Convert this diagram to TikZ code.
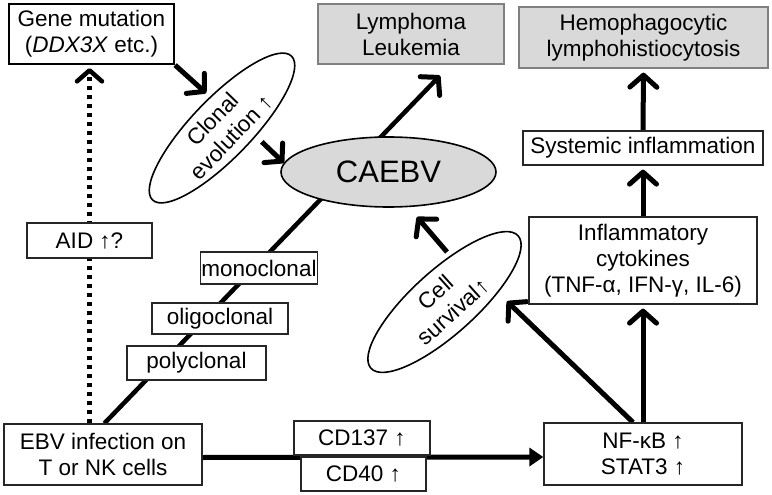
\documentclass[tikz,border=0pt]{standalone}
\usepackage{fontspec}
\setmainfont{Liberation Sans}
\usetikzlibrary{arrows.meta,calc,backgrounds,shapes.geometric}
\begin{document}
\begin{tikzpicture}[x=1pt,y=-1pt,
  font=\fontsize{22.5}{26}\selectfont,
  box/.style={draw=black!85,line width=1.3pt,fill=white,inner sep=0pt,align=center},
  gbox/.style={draw=black!50,line width=1.3pt,fill=black!15,inner sep=0pt,align=center},
  oval/.style={ellipse,draw=black,line width=1.6pt,fill=white,inner sep=-12pt,align=center},
  arr/.style={line width=5pt,-{Straight Barb[length=12pt,width=27pt,line width=5pt,round]}},
  farr/.style={line width=5pt,-{Triangle[length=14pt,width=18pt]}},
  dotarr/.style={line width=4.5pt,dash pattern=on 4.5pt off 4.5pt,-{Straight Barb[length=11pt,width=25pt,line width=4.5pt,round]}}
]
\useasboundingbox (0,0) rectangle (772,495);
\begin{scope}[on background layer]
\fill[white] (0,0) rectangle (772,495);
\end{scope}

% nodes
\node[box,line width=2.2pt,draw=black,minimum width=165,minimum height=60] (gene) at (91.5,34) {Gene mutation\\(\textit{DDX3X} etc.)};
\node[gbox,minimum width=186,minimum height=60] (lymph) at (411,34) {Lymphoma\\Leukemia};
\node[gbox,minimum width=249,minimum height=61] (hemo) at (643.5,37.5) {Hemophagocytic\\lymphohistiocytosis};
\node[box,minimum width=240,minimum height=34] (sys) at (643,148) {Systemic inflammation};
\node[box,minimum width=228,minimum height=87] (infl) at (643,260.5) {Inflammatory\\cytokines\\(TNF-α, IFN-γ, IL-6)};
\node[ellipse,draw=black,line width=1.6pt,fill=black!15,inner sep=0pt,minimum width=215,minimum height=70,font=\fontsize{31}{36}\selectfont] (caebv) at (388.5,172) {CAEBV};
\node[oval,rotate=46,minimum width=200,minimum height=60] (clonal) at (222,128) {Clonal\\evolution ↑};
\node[oval,rotate=42,minimum width=198,minimum height=64] (surv) at (444.5,302) {Cell\\survival↑};
\node[box,minimum width=125,minimum height=35] (aid) at (89.5,240.5) {AID ↑?};
\node[box,minimum width=117,minimum height=32] (mono) at (259,268) {monoclonal};
\node[box,minimum width=136,minimum height=31] (oligo) at (220,318.5) {oligoclonal};
\node[box,minimum width=139,minimum height=34] (poly) at (196.5,363) {polyclonal};
\node[box,minimum width=198,minimum height=61] (ebv) at (103,454.5) {EBV infection on\\T or NK cells};
\node[box,minimum width=136,minimum height=34] (cd137) at (362,438) {CD137 ↑};
\node[box,minimum width=125,minimum height=34] (cd40) at (363.5,474) {CD40 ↑};
\node[box,minimum width=198,minimum height=62] (nf) at (643,454) {NF-κB ↑\\STAT3 ↑};

% connectors
\begin{scope}[on background layer]
\draw[dotarr] (ebv.north -| aid) -- ([yshift=-3pt]gene.south -| aid);
\draw[arr,line width=4.5pt] ($(ebv.north west)+(101,0)$) -- ($(lymph.south)+(29,11)$);
\draw[farr] ([yshift=-3pt]ebv.east) -- ([yshift=-3pt]nf.west);
\draw[arr] (nf.north) -- ([yshift=-4pt]infl.south);
\draw[arr] ([xshift=-10pt]nf.north) -- ++(-126,-121);
\draw[arr] (infl.north) -- ([yshift=-4pt]sys.south);
\draw[arr] (sys.north) -- ([yshift=-4pt]hemo.south);
\draw[arr] (gene.south east) -- ++(31,28);
\draw[arr] ($(caebv.175)+(-22,-21)$) -- (caebv.175);
\draw[arr] ($(surv)+(2.5,-50)$) -- ($(caebv)+(28.5,45)$);
\end{scope}
\end{tikzpicture}
\end{document}
